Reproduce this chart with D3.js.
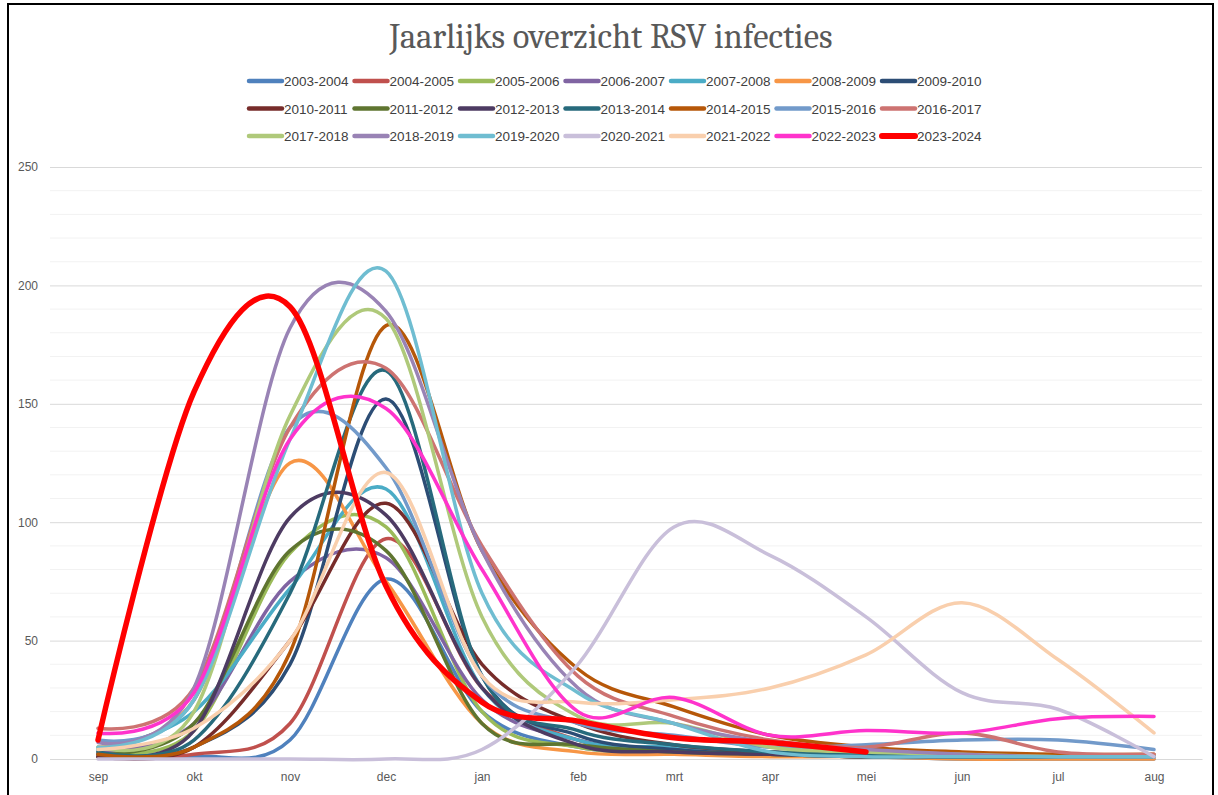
<!DOCTYPE html>
<html><head><meta charset="utf-8">
<script src="https://cdn.jsdelivr.net/npm/d3@7"></script>
<style>body{margin:0;background:#fff}</style>
</head><body>
<svg id="c" width="1218" height="795"></svg>
<script>
const months = ["sep","okt","nov","dec","jan","feb","mrt","apr","mei","jun","jul","aug"];
const seasons = ["2003-2004","2004-2005","2005-2006","2006-2007","2007-2008","2008-2009","2009-2010",
  "2010-2011","2011-2012","2012-2013","2013-2014","2014-2015","2015-2016","2016-2017",
  "2017-2018","2018-2019","2019-2020","2020-2021","2021-2022","2022-2023","2023-2024"];
const colors = ["#4F81BD","#C0504D","#9BBB59","#8064A2","#4BACC6","#F79646","#2C4D75",
  "#772C2A","#5F7530","#4D3B62","#276A7C","#B65708","#729ACA","#CD7371",
  "#AFC97A","#9983B5","#6FBDD1","#C9BFDA","#F9CFAD","#FF33CC","#FF0000"];

const v2003 = [1, 1, 8, 76, 20, 5, 3, 2, 1, 0, 0, 0];
const v2004 = [1, 2, 15, 93, 30, 8, 4, 2, 1, 1, 1, 1];
const v2005 = [3, 12, 87, 98, 20, 5, 3, 2, 1, 1, 1, 1];
const v2006 = [3, 15, 75, 85, 25, 8, 3, 2, 1, 1, 1, 1];
const v2007 = [4, 20, 72, 114, 30, 8, 5, 3, 1, 1, 1, 1];
const v2008 = [5, 25, 125, 75, 15, 3, 2, 1, 1, 0, 0, 0];
const v2009 = [1, 5, 40, 152, 35, 10, 4, 2, 1, 1, 1, 1];
const v2010 = [1, 5, 50, 108, 40, 15, 6, 3, 2, 1, 1, 1];
const v2011 = [2, 15, 88, 88, 15, 6, 3, 2, 1, 1, 1, 1];
const v2012 = [2, 12, 102, 103, 30, 6, 3, 2, 1, 1, 1, 1];
const v2013 = [3, 8, 70, 164, 35, 12, 6, 3, 2, 1, 1, 1];
const v2014 = [2, 5, 45, 183, 88, 38, 22, 10, 5, 3, 2, 2];
const v2015 = [8, 25, 140, 123, 35, 15, 10, 5, 6, 8, 8, 4];
const v2016 = [13, 30, 140, 165, 90, 35, 18, 8, 5, 11, 3, 2];
const v2017 = [5, 20, 145, 186, 60, 18, 15, 5, 3, 2, 1, 1];
const v2018 = [7, 30, 182, 189, 88, 30, 15, 7, 4, 2, 1, 1];
const v2019 = [5, 25, 135, 206, 70, 28, 15, 3, 1, 1, 1, 1];
const v2020 = [0, 0, 0, 0, 4, 40, 98, 86, 60, 28, 21, 1];
const v2021 = [4, 13, 50, 121, 35, 24, 25, 30, 44, 66, 42, 11];
const v2022 = [11, 28, 135, 148, 80, 20, 26, 10, 12, 11, 17, 18];
const v2023 = [8, 155, 191, 73, 24, 16, 9, 7, 3, null, null, null];
const seriesValues = [v2003,v2004,v2005,v2006,v2007,v2008,v2009,v2010,v2011,v2012,v2013,
  v2014,v2015,v2016,v2017,v2018,v2019,v2020,v2021,v2022,v2023];
const yTicks = [0, 50, 100, 150, 200, 250];
const chartTitle = "Jaarlijks overzicht RSV infecties";

const svg = d3.select("#c");
const W = 1218, H = 795;
const plot = {left: 50, right: 1202, top: 167, bottom: 759};
const sans = "'Liberation Sans', Arial, sans-serif";

svg.append("rect").attr("x",0).attr("y",0).attr("width",W).attr("height",H).attr("fill","#fff");
svg.append("rect").attr("x",8).attr("y",4).attr("width",1205).attr("height",800)
  .attr("fill","none").attr("stroke","#000").attr("stroke-width",2);

const x = d3.scalePoint().domain(months).range([plot.left, plot.right]).padding(0.5);
const y = d3.scaleLinear().domain([0, 250]).range([plot.bottom, plot.top]);

// minor gridlines
const minor = d3.range(0, 251, 10).filter(v => v % 50 !== 0);
svg.append("g").selectAll("line").data(minor).join("line")
  .attr("x1", plot.left).attr("x2", plot.right)
  .attr("y1", d => y(d)).attr("y2", d => y(d))
  .attr("stroke", "#F2F2F2").attr("stroke-width", 1);

// major gridlines + y axis
const yAxis = d3.axisLeft(y).tickValues(yTicks).tickSize(-(plot.right - plot.left)).tickPadding(12);
const gy = svg.append("g").attr("transform", `translate(${plot.left},0)`).call(yAxis);
gy.select(".domain").remove();
gy.selectAll(".tick line").attr("stroke", "#D9D9D9");
gy.selectAll(".tick text").attr("fill", "#595959").style("font-family", sans).style("font-size", "12px");

// x axis
const xAxis = d3.axisBottom(x).tickSize(0).tickPadding(13);
const gx = svg.append("g").attr("transform", `translate(0,${plot.bottom})`).call(xAxis);
gx.select(".domain").attr("stroke", "#D9D9D9");
gx.selectAll(".tick text").attr("fill", "#595959").style("font-family", sans).style("font-size", "12px");

// lines
const line = d3.line()
  .defined(d => d.v !== null)
  .x(d => x(d.m)).y(d => y(d.v))
  .curve(d3.curveCardinal.tension(0));

const series = seasons.map((s, i) => ({name: s, color: colors[i],
  values: months.map((m, j) => ({m, v: seriesValues[i][j]}))}));

svg.append("g").selectAll("path").data(series).join("path")
  .attr("d", d => line(d.values))
  .attr("fill", "none")
  .attr("stroke", d => d.color)
  .attr("stroke-width", (d, i) => i === series.length - 1 ? 5.5 : 3.5)
  .attr("stroke-linecap", "round")
  .attr("stroke-linejoin", "round");

// title
svg.append("text").attr("x", 611).attr("y", 48).attr("text-anchor", "middle")
  .attr("fill", "#595959")
  .style("font-family", "Cambria, Caladea, 'Liberation Serif', 'DejaVu Serif', serif")
  .style("font-size", "34.5px").text(chartTitle);

// legend
const leg = svg.append("g");
series.forEach((s, i) => {
  const row = Math.floor(i / 7), col = i % 7;
  const lx = 247 + col * 105.5, ly = 81 + row * 27.5;
  leg.append("line").attr("x1", lx + 2).attr("x2", lx + 35).attr("y1", ly).attr("y2", ly)
    .attr("stroke", s.color).attr("stroke-width", i === series.length - 1 ? 6 : 4.5).attr("stroke-linecap", "round");
  leg.append("text").attr("x", lx + 37).attr("y", ly + 5).attr("fill", "#404040")
    .style("font-family", sans)
    .style("font-size", "13.5px").text(s.name);
});
</script>
</body></html>
